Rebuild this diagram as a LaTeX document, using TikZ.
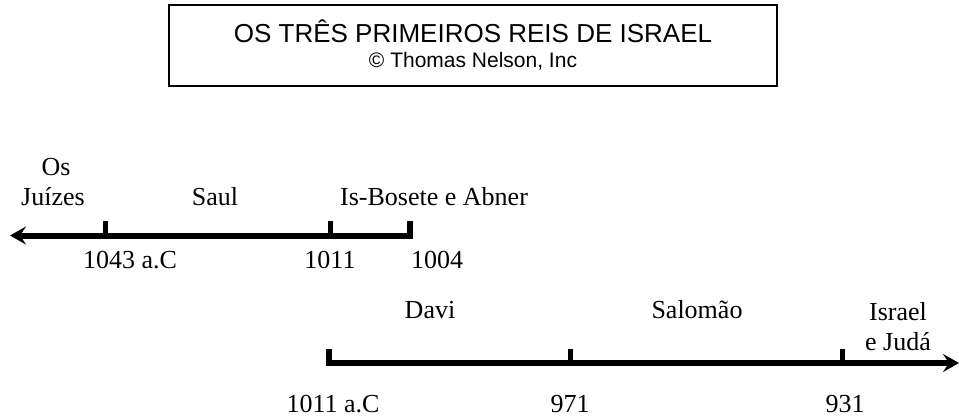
\documentclass[tikz,border=0pt]{standalone}
\usepackage{fontspec}
\setmainfont{Liberation Serif}
\newfontfamily\arialf{Liberation Sans}
\usetikzlibrary{arrows.meta}
\begin{document}
\begin{tikzpicture}[x=1pt,y=-1pt,
  lbl/.style={font=\fontsize{26}{30}\selectfont, inner sep=0pt, anchor=base},
  axisline/.style={line width=6pt, line join=miter},
  tickmark/.style={line width=5pt},
  head/.style={-{Stealth[length=16pt,width=18pt,inset=6pt]}}]
\useasboundingbox (0,0) rectangle (959,416);
% title box
\node[draw, line width=2pt, minimum width=608pt, minimum height=81pt, inner sep=0pt] (box) at (473,45.5) {};
\node[font=\arialf\fontsize{26}{30}\selectfont, inner sep=0pt, anchor=base] (title) at (473,42) {OS TRÊS PRIMEIROS REIS DE ISRAEL};
\node[font=\arialf\fontsize{21}{25}\selectfont, inner sep=0pt, anchor=base] (copy) at (473,67) {© Thomas Nelson, Inc};
% timeline 1
\coordinate (a1) at (10,235.5);
\coordinate (e1top) at (410,221);
\coordinate (e1) at (410,235.5);
\coordinate (t1top) at (105,221);
\coordinate (t1) at (105,235.5);
\coordinate (t2top) at (330,221);
\coordinate (t2) at (330,235.5);
\draw[axisline, head] (e1top) -- (e1) -- (a1);
\draw[tickmark] (t1top) -- (t1);
\draw[tickmark] (t2top) -- (t2);
\node[lbl] (os) at (56,175) {Os};
\node[lbl] (juizes) at (53,205) {Juízes};
\node[lbl] (saul) at (215,205) {Saul};
\node[lbl, anchor=base west] (isb) at (340,205) {Is-Bosete e Abner};
\node[lbl] (n1043) at (130,268) {1043 a.C};
\node[lbl] (n1011) at (330,268) {1011};
\node[lbl] (n1004) at (437,268) {1004};
% timeline 2
\coordinate (s2top) at (329,349);
\coordinate (s2) at (329,363);
\coordinate (a2) at (959,363);
\coordinate (u1top) at (570,349);
\coordinate (u1) at (570,363);
\coordinate (u2top) at (842,349);
\coordinate (u2) at (842,363);
\draw[axisline, head] (s2top) -- (s2) -- (a2);
\draw[tickmark] (u1top) -- (u1);
\draw[tickmark] (u2top) -- (u2);
\node[lbl] (davi) at (430,318) {Davi};
\node[lbl] (salomao) at (697,318) {Salomão};
\node[lbl] (israel) at (898,320) {Israel};
\node[lbl] (juda) at (898,350) {e Judá};
\node[lbl] (m1011) at (333,412) {1011 a.C};
\node[lbl] (m971) at (570,412) {971};
\node[lbl] (m931) at (845,412) {931};
\end{tikzpicture}
\end{document}
